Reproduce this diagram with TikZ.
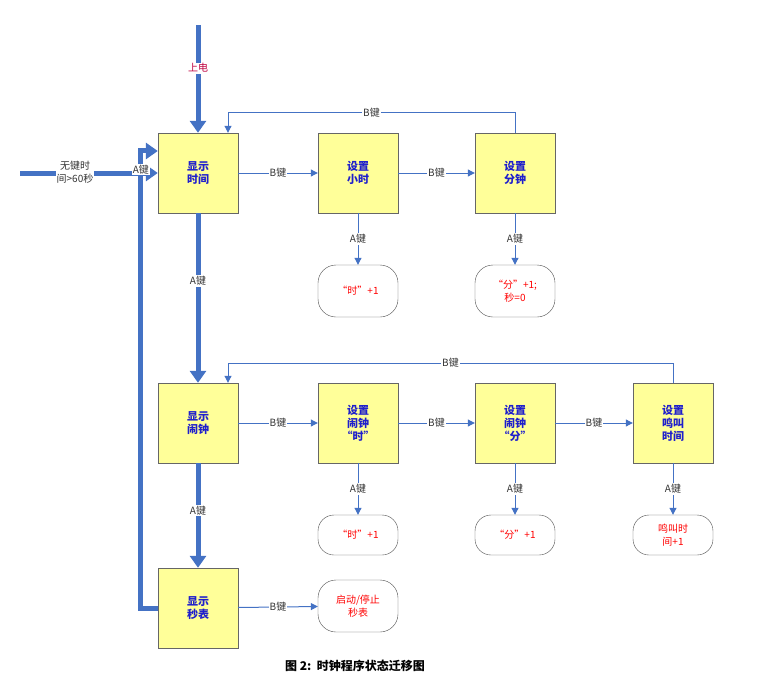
\documentclass[tikz,border=0pt]{standalone}
\usepackage{fontspec}
\setmainfont{Liberation Serif}
\newfontfamily\cjk{Noto Sans CJK SC}
\usetikzlibrary{arrows.meta}
\definecolor{ln}{HTML}{4472C4}
\definecolor{bx}{HTML}{FFFF99}
\definecolor{tx}{HTML}{1F1FCC}
\begin{document}
\begin{tikzpicture}[x=1pt,y=-1pt,
  st/.style={draw=black!60,fill=bx,minimum width=80pt,minimum height=80pt,inner sep=0pt,
    align=center,font=\cjk\bfseries\fontsize{11}{13}\selectfont,text=tx},
  ov/.style={draw=black!70,rounded corners=18pt,minimum width=80pt,minimum height=52pt,
    align=center,font=\cjk\fontsize{10}{13}\selectfont,text=red},
  ovs/.style={ov,minimum height=40pt,rounded corners=16pt},
  thn/.style={draw=ln,line width=1pt,-{Triangle[length=7pt,width=7pt]}},
  thk/.style={draw=ln,line width=5pt,-{Triangle[length=12pt,width=16pt]}},
  lb/.style={fill=white,inner sep=1pt,font=\cjk\fontsize{10}{12}\selectfont,text=black!80}]
\useasboundingbox (0,0) rectangle (767,695);
\node[st] (t) at (198,173) {显示\\时间};
\node[st] (h) at (358,173) {设置\\小时};
\node[st] (m) at (515,173) {设置\\分钟};
\node[st] (a) at (198,423) {显示\\闹钟};
\node[st] (ah) at (358,423) {设置\\闹钟\\“时”};
\node[st] (am) at (515,423) {设置\\闹钟\\“分”};
\node[st] (ar) at (673,423) {设置\\鸣叫\\时间};
\node[st] (s) at (198,608) {显示\\秒表};
\node[ov] (oh) at (358,291) {“时”+1};
\node[ov] (om) at (515,291) {“分”+1;\\秒=0};
\node[ovs] (oah) at (358,535) {“时”+1};
\node[ovs] (oam) at (515,535) {“分”+1};
\node[ovs] (oar) at (673,535) {鸣叫时\\间+1};
\node[ov] (os) at (358,606) {启动/停止\\秒表};
\coordinate (pw) at (198,25);
\coordinate (nk) at (20,173);
\draw[thk] (pw) -- node[lb,pos=0.4]{\textcolor{purple}{上电}} (t.north);
\draw[thk] (nk) -- (t.west);
\node[lb,align=center,font=\cjk\fontsize{10}{13}\selectfont] at (75,172) {无键时\\间>60秒};
\draw[thk] (t.south) -- node[lb,pos=0.4]{A键} (a.north);
\draw[thk] (a.south) -- node[lb,pos=0.45]{A键} (s.north);
\draw[thk] (s.west) -- ++(-17,0) |- node[lb,pos=0.48]{A键} ([yshift=22pt]t.west);
\draw[thn] (t) -- node[lb]{B键} (h);
\draw[thn] (h) -- node[lb]{B键} (m);
\draw[thn] (m.north) |- node[lb,pos=0.75]{B键} (228,113) -- ([xshift=30pt]t.north);
\draw[thn] (h) -- node[lb]{A键} (oh);
\draw[thn] (m) -- node[lb]{A键} (om);
\draw[thn] (a) -- node[lb]{B键} (ah);
\draw[thn] (ah) -- node[lb]{B键} (am);
\draw[thn] (am) -- node[lb]{B键} (ar);
\draw[thn] (ar.north) |- node[lb,pos=0.75]{B键} (228,363) -- ([xshift=30pt]a.north);
\draw[thn] (ah) -- node[lb]{A键} (oah);
\draw[thn] (am) -- node[lb]{A键} (oam);
\draw[thn] (ar) -- node[lb]{A键} (oar);
\draw[thn] (s) -- node[lb]{B键} (os);
\node[font=\cjk\bfseries\fontsize{12}{14}\selectfont] (cap) at (355,666) {图 2:\ \ 时钟程序状态迁移图};
\end{tikzpicture}
\end{document}
